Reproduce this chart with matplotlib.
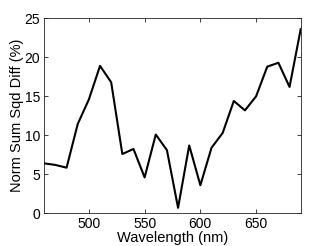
import matplotlib
matplotlib.use("Agg")
import matplotlib.pyplot as plt

# Wavelength (nm) and normalised sum of squared differences (%)
wavelength = [460, 470, 480, 490, 500, 510, 520, 530, 540, 550, 560, 570,
              580, 590, 600, 610, 620, 630, 640, 650, 660, 670, 680, 690]
sqd_diff = [6.4, 6.2, 5.85, 11.45, 14.6, 18.9, 16.8, 7.6, 8.25, 4.6, 10.1, 8.1,
            0.7, 8.7, 3.6, 8.4, 10.3, 14.4, 13.2, 15.0, 18.8, 19.3, 16.2, 23.6]
x_ticks = [500, 550, 600, 650]
y_ticks = [0, 5, 10, 15, 20, 25]

plt.rcParams['font.family'] = ['Liberation Sans', 'DejaVu Sans']

fig = plt.figure(figsize=(3.32, 2.46), dpi=100)
ax = fig.add_axes([0.1334, 0.1329, 0.7723, 0.7927])
ax.plot(wavelength, sqd_diff, color='black', linewidth=1.5)

ax.set_xlim(460, 690)
ax.set_ylim(0, 25)
ax.set_xticks(x_ticks)
ax.set_yticks(y_ticks)
ax.tick_params(direction='in', top=True, right=True, length=3, width=0.6,
               labelsize=10, pad=3, colors='#222222', labelcolor='black')
for spine in ax.spines.values():
    spine.set_linewidth(0.6)
    spine.set_color('#222222')

ax.set_xlabel('Wavelength (nm)', fontsize=10.5, labelpad=0)
ax.set_ylabel('Norm Sum Sqd Diff (%)', fontsize=10.5, labelpad=0)

fig.savefig('out.png', dpi=100)
